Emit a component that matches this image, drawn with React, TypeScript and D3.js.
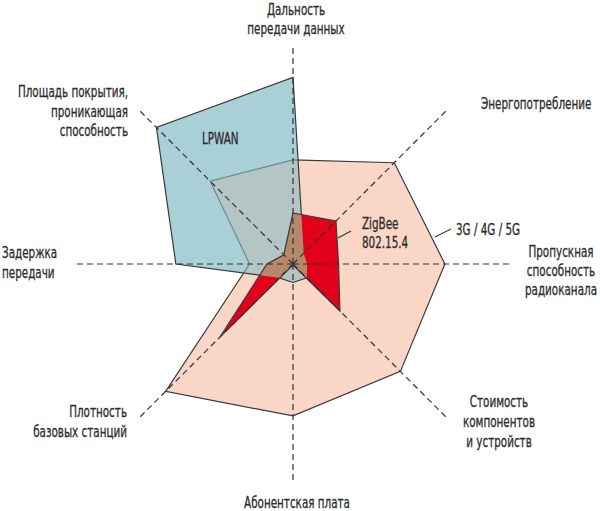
import React, { useRef, useEffect } from "react";
import * as d3 from "d3";

// axes, clockwise from the top
const axisLabels: string[][] = [
  ["Дальность", "передачи данных"],
  ["Энергопотребление"],
  ["Пропускная", "способность", "радиоканала"],
  ["Стоимость", "компонентов", "и устройств"],
  ["Абонентская плата"],
  ["Плотность", "базовых станций"],
  ["Задержка", "передачи"],
  ["Площадь покрытия,", "проникающая", "способность"],
];

// values on a 0..100 scale, same order as the axes
const cellularValues = [48, 66, 70, 70, 70, 83, 20, 54];
const lpwanValues = [86, 7, 6.5, 9, 8.5, 9, 54, 89];
const zigbeeValues = [23.5, 28, 21, 30.6, 0.5, 47.5, 12, 6];

const seriesNames = ["3G / 4G / 5G", "LPWAN", "ZigBee 802.15.4"];

// where each axis label sits (text anchor + first line centre)
const labelLayout = [
  { x: 296, y: 10, anchor: "middle", step: 19 },
  { x: 481, y: 104, anchor: "start", step: 19 },
  { x: 561, y: 252, anchor: "middle", step: 19 },
  { x: 499, y: 402, anchor: "middle", step: 20 },
  { x: 297, y: 503, anchor: "middle", step: 19 },
  { x: 127, y: 412, anchor: "end", step: 20 },
  { x: 2, y: 253, anchor: "start", step: 20 },
  { x: 128, y: 92, anchor: "end", step: 19.5 },
];

const FONT = "'DejaVu Sans Condensed', 'DejaVu Sans', sans-serif";
const SQUEEZE = 0.77; // the original type is a narrow DIN-like face
const TEXT = "#2d2d2d";
const STROKE = "#3a3a3a";

const RadarChart: React.FC = () => {
  const svgRef = useRef<SVGSVGElement | null>(null);

  useEffect(() => {
    document.body.style.margin = "0";
    if (!svgRef.current) return;

    const cx = 293;
    const cy = 264;
    const maxR = 217;

    const svg = d3.select(svgRef.current);
    svg.selectAll("*").remove();

    const r = d3.scaleLinear().domain([0, 100]).range([0, maxR]);
    const angle = d3
      .scaleLinear()
      .domain([0, axisLabels.length])
      .range([0, 2 * Math.PI]);

    const radar = d3
      .lineRadial<number>()
      .angle((d, i) => angle(i))
      .radius((d) => r(d))
      .curve(d3.curveLinearClosed);

    const defs = svg.append("defs");
    defs
      .append("clipPath")
      .attr("id", "clip-lpwan")
      .append("path")
      .attr("d", radar(lpwanValues) as string);

    const g = svg.append("g").attr("transform", `translate(${cx},${cy})`);

    // 3G / 4G / 5G
    g.append("path")
      .attr("d", radar(cellularValues) as string)
      .attr("fill", "#fad6c6")
      .attr("stroke", STROKE)
      .attr("stroke-width", 1.2);

    // LPWAN
    g.append("path")
      .attr("d", radar(lpwanValues) as string)
      .attr("fill", "#a9cfd7");

    const inside = g.append("g").attr("clip-path", "url(#clip-lpwan)");
    inside
      .append("path")
      .attr("d", radar(cellularValues) as string)
      .attr("fill", "#b3c6c5")
      .attr("stroke", "#6b8a8f")
      .attr("stroke-width", 1.2);

    g.append("path")
      .attr("d", radar(lpwanValues) as string)
      .attr("fill", "none")
      .attr("stroke", STROKE)
      .attr("stroke-width", 1.2);

    // ZigBee
    g.append("path")
      .attr("d", radar(zigbeeValues) as string)
      .attr("fill", "#e2001a");

    g.append("g")
      .attr("clip-path", "url(#clip-lpwan)")
      .append("path")
      .attr("d", radar(zigbeeValues) as string)
      .attr("fill", "#b5876b");

    g.append("path")
      .attr("d", radar(zigbeeValues) as string)
      .attr("fill", "none")
      .attr("stroke", STROKE)
      .attr("stroke-width", 1.2);

    // axes
    g.selectAll("line.axis")
      .data(axisLabels)
      .enter()
      .append("line")
      .attr("class", "axis")
      .attr("x1", 0)
      .attr("y1", 0)
      .attr("x2", (d, i) => Math.sin(angle(i)) * r(100))
      .attr("y2", (d, i) => -Math.cos(angle(i)) * r(100))
      .attr("stroke", "#333")
      .attr("stroke-width", 1.2)
      .attr("stroke-dasharray", "6,4");

    const addText = (
      x: number,
      y: number,
      lines: string[],
      anchor: string,
      step: number
    ) => {
      const t = svg
        .append("g")
        .attr("transform", `translate(${x},0) scale(${SQUEEZE},1)`)
        .append("text")
        .attr("text-anchor", anchor)
        .attr("font-family", FONT)
        .attr("font-size", 15)
        .attr("fill", TEXT)
        .attr("stroke", TEXT)
        .attr("stroke-width", 0.3);
      lines.forEach((line, j) => {
        t.append("tspan")
          .attr("x", 0)
          .attr("y", y + j * step)
          .attr("dy", "0.35em")
          .text(line);
      });
    };

    // axis labels
    axisLabels.forEach((lines, i) => {
      const lay = labelLayout[i];
      addText(lay.x, lay.y, lines, lay.anchor, lay.step);
    });

    // series labels
    addText(456, 230, [seriesNames[0]], "start", 19);
    addText(202, 139, [seriesNames[1]], "start", 19);
    addText(362, 224, seriesNames[2].split(" "), "start", 19);

    // leader lines
    svg
      .append("line")
      .attr("x1", 435)
      .attr("y1", 237)
      .attr("x2", 451)
      .attr("y2", 229)
      .attr("stroke", STROKE)
      .attr("stroke-width", 1.2);
    svg
      .append("line")
      .attr("x1", 338)
      .attr("y1", 238)
      .attr("x2", 351)
      .attr("y2", 231)
      .attr("stroke", STROKE)
      .attr("stroke-width", 1.2);
  }, []);

  return <svg ref={svgRef} width={600} height={511} style={{ display: "block" }}></svg>;
};

export default function App() {
  return <RadarChart />;
}
